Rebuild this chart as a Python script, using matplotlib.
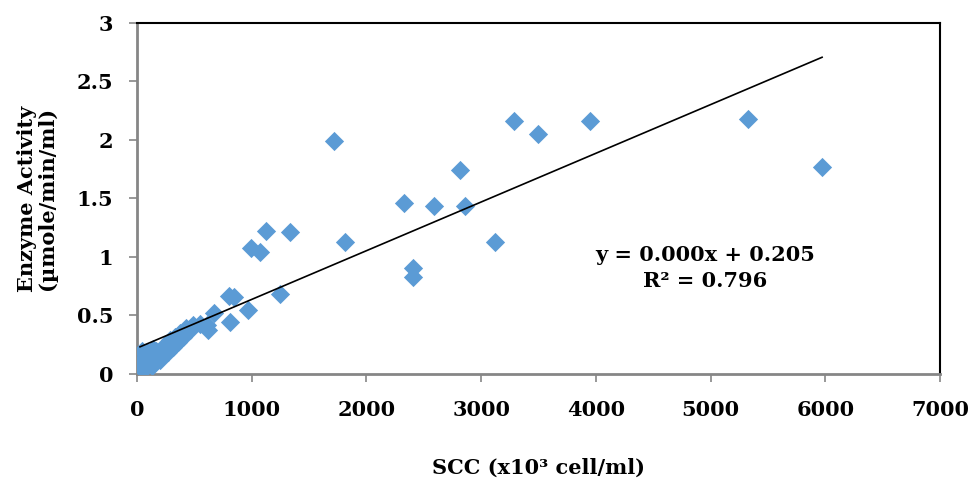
import numpy as np
import matplotlib.pyplot as plt

# SCC (x10^3 cell/ml) and enzyme activity (umole/min/ml)
scc = [26, 44, 52, 70, 87, 96, 113, 131, 140, 157, 166, 183, 200, 218, 244,
       270, 288, 314, 331, 357, 375, 401, 427, 462, 488, 549,
       610, 619, 671, 802, 811, 846, 968, 994, 1072, 1125, 1247, 1334,
       1717, 1813, 2328, 2406, 2406, 2589, 2816, 2859, 3121, 3287, 3496,
       3949, 5327, 5972]
activity = [0.10, 0.20, 0.03, 0.14, 0.19, 0.08, 0.15, 0.07, 0.21, 0.10, 0.20, 0.16, 0.12, 0.20, 0.25,
            0.19, 0.29, 0.23, 0.32, 0.27, 0.35, 0.32, 0.39, 0.38, 0.42, 0.43,
            0.42, 0.38, 0.52, 0.67, 0.44, 0.66, 0.55, 1.08, 1.04, 1.22, 0.68, 1.21,
            1.99, 1.13, 1.46, 0.91, 0.83, 1.44, 1.74, 1.44, 1.13, 2.16, 2.05,
            2.16, 2.18, 1.77]

x_ticks = [0, 1000, 2000, 3000, 4000, 5000, 6000, 7000]
y_ticks = [0, 0.5, 1, 1.5, 2, 2.5, 3]
y_tick_labels = ['0', '0.5', '1', '1.5', '2', '2.5', '3']

plt.rcParams['font.family'] = ['DejaVu Serif']
plt.rcParams['font.weight'] = 'bold'

fig = plt.figure(figsize=(9.74, 4.86), dpi=100)
ax = fig.add_axes([0.1407, 0.2305, 0.8244, 0.7222])

ax.scatter(scc, activity, marker='D', s=96, color='#5B9BD5', linewidths=0, zorder=3)

# linear trendline (least squares)
slope, intercept = np.polyfit(scc, activity, 1)
xs = np.array([min(scc), max(scc)])
ax.plot(xs, slope * xs + intercept, color='black', lw=1.2, zorder=4)

ax.text(4950, 0.905, 'y = 0.000x + 0.205\nR² = 0.796', ha='center', va='center',
        fontsize=15, fontweight='bold', linespacing=1.35, zorder=5)

ax.set_xlim(0, 7000)
ax.set_ylim(0, 3)
ax.set_xticks(x_ticks)
ax.set_yticks(y_ticks)
ax.set_yticklabels(y_tick_labels)

for lbl in ax.get_xticklabels():
    lbl.set_fontsize(15)
    lbl.set_fontweight('bold')
for lbl in ax.get_yticklabels():
    lbl.set_fontsize(15)
    lbl.set_fontweight('bold')

ax.tick_params(axis='both', direction='out', length=6, width=1.2, color='#868686')
ax.tick_params(axis='y', pad=11)
ax.tick_params(axis='x', pad=13)

for side in ['top', 'right']:
    ax.spines[side].set_color('black')
    ax.spines[side].set_linewidth(1.5)
for side in ['left', 'bottom']:
    ax.spines[side].set_color('#868686')
    ax.spines[side].set_linewidth(2)

ax.set_xlabel('SCC (x10³ cell/ml)', fontsize=15, fontweight='bold')
ax.xaxis.set_label_coords(0.5, -0.268)
ax.xaxis.label.set_va('center')
ax.set_ylabel('Enzyme Activity\n(µmole/min/ml)', fontsize=15, fontweight='bold',
              labelpad=14, linespacing=1.05)

fig.savefig('out.png', dpi=100)
